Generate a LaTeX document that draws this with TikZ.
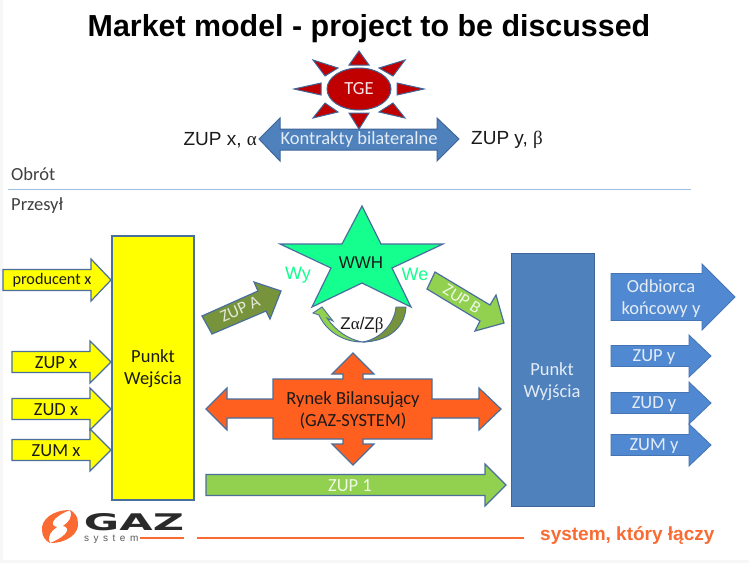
\documentclass[tikz,border=0pt]{standalone}
\usepackage{fontspec}
\setmainfont{Carlito}
\newfontfamily\arialf{Liberation Sans}
\newfontfamily\timesf{Liberation Serif}
\newfontfamily\logof{DejaVu Sans}
\definecolor{edgeblue}{HTML}{4A6F9C}
\definecolor{darkedge}{HTML}{3F6597}
\definecolor{gsblue}{HTML}{4F81BD}
\definecolor{gslight}{HTML}{5089D2}
\definecolor{gsyellow}{HTML}{FFFF00}
\definecolor{gsgreen}{HTML}{92D050}
\definecolor{gsolive}{HTML}{77933C}
\definecolor{gsstar}{HTML}{14FF8E}
\definecolor{gsorange}{HTML}{FF5F1F}
\definecolor{gsred}{HTML}{C00000}
\definecolor{linkline}{HTML}{9DBDE3}
\definecolor{inktext}{HTML}{1A1A1A}
\definecolor{logoorange}{HTML}{F96B32}
\definecolor{logoblack}{HTML}{2A2A2A}
\tikzset{
  shapeline/.style={draw=edgeblue,line width=1.2pt,line join=miter},
  yellowshape/.style={shapeline,fill=gsyellow},
  blueshape/.style={draw=darkedge,line width=1pt,fill=gsblue},
  lightshape/.style={draw=gslight!85!black,line width=0.8pt,fill=gslight},
  lab/.style={inner sep=0pt,align=center,font=\fontsize{18.5}{22}\selectfont},
  smalllab/.style={lab,font=\fontsize{16.2}{18}\selectfont},
  darklab/.style={lab,text=inktext},
  whitelab/.style={lab,text=white!85!gsblue},
  sanslab/.style={inner sep=0pt,text=inktext,font=\arialf\fontsize{19}{21}\selectfont},
  rayshape/.style={draw=darkedge,line width=1pt,fill=gsred},
}
% \rarr[style]{x0}{xhead}{xtip}{yc}{halfbody}{halfhead}
\newcommand{\rarr}[7][]{\path[#1] (#2,#5-#6) -- (#3,#5-#6) -- (#3,#5-#7) -- (#4,#5) -- (#3,#5+#7) -- (#3,#5+#6) -- (#2,#5+#6) -- cycle;}
\begin{document}
\begin{tikzpicture}[x=1pt,y=-1pt]
\useasboundingbox (0,0) rectangle (749,563);
\fill[black!3] (0,0) rectangle (749,563);
\fill[white] (3,0) rectangle (749,560);

\node[inner sep=0pt,font=\arialf\bfseries\fontsize{30.4}{32}\selectfont,text=black] (title) at (369,29) {Market model - project to be discussed};

% Kontrakty arrow
\path[blueshape] (259,139) -- (280,118) -- (280,129) -- (437,129) -- (437,118) -- (459,139) -- (437,161) -- (437,150) -- (280,150) -- (280,161) -- cycle;
\node[lab,text=white!85!gsblue] (kontrakty) at (359,140) {Kontrakty bilateralne};
\node[sanslab,anchor=east] (zupxa) at (257,140) {ZUP x, {\timesf α}};
\node[sanslab,anchor=west] (zupyb) at (471,140) {ZUP y, {\timesf β}};

% Sun
\foreach \pts in {
  {(359,51)--(349,65)--(369,65)},
  {(424,89)--(397,83)--(397,95)},
  {(294,89)--(321,83)--(321,95)},
  {(359,129)--(349,113)--(369,113)},
  {(405,60)--(379,68)--(393,76)},
  {(313,60)--(338,68)--(325,76)},
  {(405,118)--(393,103)--(379,112)},
  {(313,118)--(325,103)--(338,112)}}{
  \path[rayshape] \pts -- cycle;
}
\path[rayshape] (359,89) ellipse [x radius=32,y radius=21];
\node[lab,text=white!90!gsred] (tge) at (359,89) {TGE};

% Divider
\node[lab,anchor=west,text=black!75] (obrot) at (11,174) {Obrót};
\node[lab,anchor=west,text=black!75] (przesyl) at (11,206) {Przesył};
\coordinate (divL) at (8,189);
\coordinate (divR) at (691,189);
\draw[linkline,line width=0.9pt] (divL) -- (divR);

% Left column
\path[yellowshape] (112,236) rectangle (194,500);
\node[darklab] (wejscie) at (153,369) {Punkt\\Wejścia};
\rarr[yellowshape]{3}{91}{111}{280}{10.5}{21}
\node[smalllab,text=inktext] (prod) at (52,280) {producent x};
\rarr[yellowshape]{12}{90}{111}{362}{10.5}{21}
\node[darklab] (zupx) at (56,363) {ZUP x};
\rarr[yellowshape]{12}{90}{111}{409}{10.5}{21}
\node[darklab] (zudx) at (56,410) {ZUD x};
\rarr[yellowshape]{12}{90}{111}{450}{10.5}{21}
\node[darklab] (zumx) at (56,451) {ZUM x};

% Right column
\path[blueshape] (511,253) rectangle (594,506);
\node[whitelab] (wyjscie) at (552,382) {Punkt\\Wyjścia};
\rarr[lightshape]{611}{702}{735}{297}{23.5}{33}
\node[whitelab] (odb) at (661,299) {Odbiorca\\końcowy y};
\rarr[lightshape]{611}{689}{711}{356}{10.5}{21}
\node[whitelab] (zupy) at (654,357) {ZUP y};
\rarr[lightshape]{611}{689}{711}{403}{10.5}{21}
\node[whitelab] (zudy) at (654,404) {ZUD y};
\rarr[lightshape]{611}{689}{711}{445}{10.5}{21}
\node[whitelab] (zumy) at (654,446) {ZUM y};

% Star
\path[shapeline,fill=gsstar] (362,206) -- (381,244) -- (443,244) -- (392,268) -- (411,307) -- (362,283) -- (312,307) -- (331,268) -- (280,244) -- (342,244) -- cycle;
\node[inner sep=0pt,text=inktext,font=\arialf\fontsize{17}{20}\selectfont] (wwh) at (361,263) {WWH};
\node[inner sep=0pt,text=gsstar,font=\arialf\fontsize{18}{20}\selectfont] (wy) at (298,275) {Wy};
\node[inner sep=0pt,text=gsstar,font=\arialf\fontsize{18}{20}\selectfont] (we) at (415,274) {We};

% Curved arrow
\path[shapeline,line width=0.9pt,fill=gsolive] (396,307) -- (406,307) .. controls (405,329) and (386,342) .. (362,342) .. controls (378,340) and (394,326) .. cycle;
\path[shapeline,line width=0.9pt,fill=gsgreen] (313,313) -- (322,307) -- (333,321) -- (327,318) .. controls (336,331) and (348,339) .. (362,342) .. controls (343,342) and (326,331) .. (319,315) -- cycle;
\node[inner sep=0pt,text=inktext,font=\arialf\fontsize{17}{20}\selectfont] (zab) at (362,325) {Z{\timesf α}/Z{\timesf β}};

% ZUP A, ZUP B
\path[shapeline,fill=gsolive] (202,316) -- (258,291) -- (254,282) -- (281,291) -- (270,319) -- (266,311) -- (212,334) -- cycle;
\node[lab,rotate=24,text=white!80!gsolive,font=\fontsize{17}{18}\selectfont] (zupa) at (240,309) {ZUP A};
\path[shapeline,fill=gsgreen] (435,272) -- (490,305) -- (496,295) -- (504,323) -- (475,331) -- (480,321) -- (427,289) -- cycle;
\node[lab,rotate=-32,text=white!85!gsgreen,font=\fontsize{17}{18}\selectfont] (zupb) at (462,299) {ZUP B};

% Rynek
\path[shapeline,fill=gsorange] (206,409) -- (227,388) -- (227,399) -- (273,399) -- (273,379) -- (343,379) -- (343,374) -- (332,374) -- (353,353) -- (374,374) -- (363,374) -- (363,379) -- (432,379) -- (432,399) -- (479,399) -- (479,388) -- (501,409) -- (479,430) -- (479,418) -- (432,418) -- (432,439) -- (363,439) -- (363,444) -- (374,444) -- (353,465) -- (332,444) -- (343,444) -- (343,439) -- (273,439) -- (273,418) -- (227,418) -- (227,430) -- cycle;
\node[darklab] (rynek) at (353,410) {Rynek Bilansujący\\(GAZ-SYSTEM)};

% ZUP 1
\rarr[shapeline,fill=gsgreen]{206}{485}{506}{485}{10.5}{21}
\node[lab,text=white!85!gsgreen] (zup1) at (350,486) {ZUP 1};

% Logo
\path[fill=logoorange] (70,510) .. controls (52,510) and (41,520) .. (42,530) .. controls (42,537) and (46,541) .. (50,543) .. controls (47,536) and (51,531) .. (57,527) .. controls (50,526) and (50,518) .. (70,510) -- cycle;
\path[fill=logoorange] (50,543) .. controls (68,543) and (79,533) .. (78,523) .. controls (78,516) and (74,512) .. (70,510) .. controls (73,517) and (69,522) .. (63,526) .. controls (70,527) and (70,535) .. (50,543) -- cycle;
\node[inner sep=0pt,text=logoblack] (gaz) at (134,522) {\resizebox{100pt}{17pt}{\logof\bfseries GAZ}};
\node[inner sep=0pt,anchor=west,text=black!65,font=\arialf\fontsize{10}{10}\selectfont\addfontfeature{LetterSpace=45}] (sys) at (84,539) {system};
\coordinate (sl1) at (140,538);
\coordinate (sl2) at (184,538);
\draw[logoorange,line width=1.6pt] (sl1) -- (sl2);
\coordinate (ol1) at (197,538);
\coordinate (ol2) at (524,538);
\draw[logoorange,line width=1.6pt] (ol1) -- (ol2);
\node[inner sep=0pt,anchor=west,text=logoorange,font=\arialf\bfseries\fontsize{19}{20}\selectfont] (slogan) at (540,535) {system, który łączy};
\end{tikzpicture}
\end{document}
